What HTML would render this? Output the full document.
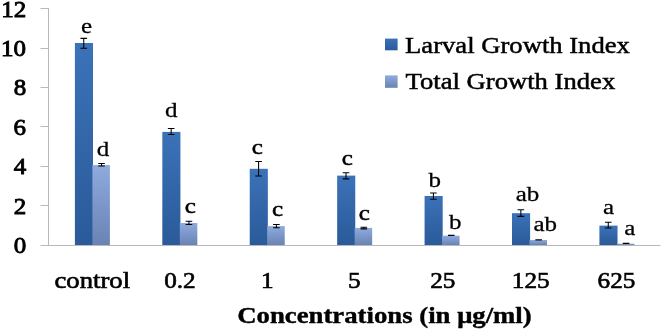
<!DOCTYPE html>
<html><head><meta charset="utf-8"><title>chart</title>
<style>
html,body{margin:0;padding:0;background:#fff;}
svg{display:block}
text{font-family:"Liberation Serif","Times New Roman",serif;fill:#000;stroke:#000}
</style></head><body>
<svg width="663" height="332" viewBox="0 0 663 332">
<defs>
<linearGradient id="gd" x1="0" y1="0" x2="0" y2="1"><stop offset="0" stop-color="#3b72b8"/><stop offset="1" stop-color="#2a5a99"/></linearGradient>
<linearGradient id="gl" x1="0" y1="0" x2="0" y2="1"><stop offset="0" stop-color="#8faade"/><stop offset="1" stop-color="#6983b4"/></linearGradient>
</defs>
<rect width="663" height="332" fill="#fff"/>
<g stroke="#b8b8b8" stroke-width="1" fill="none">
<line x1="48.5" y1="8" x2="48.5" y2="246.0"/>
<line x1="40.5" y1="245.5" x2="660.5" y2="245.5"/>
<line x1="40.5" y1="205.5" x2="48.5" y2="205.5"/>
<line x1="40.5" y1="166.5" x2="48.5" y2="166.5"/>
<line x1="40.5" y1="126.5" x2="48.5" y2="126.5"/>
<line x1="40.5" y1="87.5" x2="48.5" y2="87.5"/>
<line x1="40.5" y1="48.5" x2="48.5" y2="48.5"/>
<line x1="40.5" y1="8.5" x2="48.5" y2="8.5"/>
</g>
<rect x="74.90" y="43.00" width="18.1" height="202.00" fill="url(#gd)"/>
<rect x="92.40" y="165.10" width="17.5" height="79.90" fill="url(#gl)"/>
<rect x="162.32" y="131.90" width="18.1" height="113.10" fill="url(#gd)"/>
<rect x="179.82" y="223.00" width="17.5" height="22.00" fill="url(#gl)"/>
<rect x="249.74" y="168.80" width="18.1" height="76.20" fill="url(#gd)"/>
<rect x="267.24" y="226.10" width="17.5" height="18.90" fill="url(#gl)"/>
<rect x="337.16" y="175.60" width="18.1" height="69.40" fill="url(#gd)"/>
<rect x="354.66" y="227.90" width="17.5" height="17.10" fill="url(#gl)"/>
<rect x="424.58" y="196.00" width="18.1" height="49.00" fill="url(#gd)"/>
<rect x="442.08" y="235.70" width="17.5" height="9.30" fill="url(#gl)"/>
<rect x="512.00" y="213.20" width="18.1" height="31.80" fill="url(#gd)"/>
<rect x="529.50" y="240.00" width="17.5" height="5.00" fill="url(#gl)"/>
<rect x="599.42" y="225.60" width="18.1" height="19.40" fill="url(#gd)"/>
<rect x="616.92" y="243.70" width="17.5" height="1.30" fill="url(#gl)"/>
<g stroke="#000" stroke-width="1.05" fill="none">
<path d="M83.75 38.35V48.15M80.45 38.35h6.6M80.45 48.15h6.6"/>
<path d="M101.55 163.55V166.05M98.25 163.55h6.6M98.25 166.05h6.6"/>
<path d="M171.17 128.45V134.55M167.87 128.45h6.6M167.87 134.55h6.6"/>
<path d="M188.97 221.30V224.45M185.67 221.30h6.6M185.67 224.45h6.6"/>
<path d="M258.59 161.55V176.05M255.29 161.55h6.6M255.29 176.05h6.6"/>
<path d="M276.39 224.45V227.75M273.09 224.45h6.6M273.09 227.75h6.6"/>
<path d="M346.01 172.65V178.85M342.71 172.65h6.6M342.71 178.85h6.6"/>
<path d="M363.81 227.15V228.85M360.51 227.15h6.6M360.51 228.85h6.6"/>
<path d="M433.43 193.05V199.25M430.13 193.05h6.6M430.13 199.25h6.6"/>
<path d="M451.23 235.45V235.35M447.93 235.45h6.6M447.93 235.35h6.6"/>
<path d="M520.85 209.75V216.35M517.55 209.75h6.6M517.55 216.35h6.6"/>
<path d="M538.65 239.85V239.75M535.35 239.85h6.6M535.35 239.75h6.6"/>
<path d="M608.27 222.15V227.95M604.97 222.15h6.6M604.97 227.95h6.6"/>
<path d="M626.07 243.35V243.25M622.77 243.35h6.6M622.77 243.25h6.6"/>
</g>
<rect x="385" y="38.6" width="12.6" height="11.7" fill="url(#gd)"/>
<rect x="385" y="75.4" width="12.6" height="12.4" fill="url(#gl)"/>
<g>
<text transform="translate(13.75 252.85) scale(1.0414 0.9628)" font-size="24" font-weight="normal" stroke-width="0.9">0</text>
<text transform="translate(13.75 213.84) scale(1.0414 0.9628)" font-size="24" font-weight="normal" stroke-width="0.9">2</text>
<text transform="translate(13.63 174.33) scale(1.0414 0.9628)" font-size="24" font-weight="normal" stroke-width="0.9">4</text>
<text transform="translate(13.50 134.57) scale(1.0414 0.9628)" font-size="24" font-weight="normal" stroke-width="0.9">6</text>
<text transform="translate(13.75 95.31) scale(1.0414 0.9628)" font-size="24" font-weight="normal" stroke-width="0.9">8</text>
<text transform="translate(1.02 55.80) scale(1.0414 0.9628)" font-size="24" font-weight="normal" stroke-width="0.9">10</text>
<text transform="translate(1.15 16.79) scale(1.0414 0.9628)" font-size="24" font-weight="normal" stroke-width="0.9">12</text>
<text transform="translate(81.07 32.70) scale(1.0429 0.8883)" font-size="24" font-weight="normal" stroke-width="0.3">e</text>
<text transform="translate(96.80 155.80) scale(1.0429 0.8883)" font-size="24" font-weight="normal" stroke-width="0.3">d</text>
<text transform="translate(164.90 117.30) scale(1.0429 0.8883)" font-size="24" font-weight="normal" stroke-width="0.3">d</text>
<text transform="translate(184.65 212.60) scale(1.0429 0.8883)" font-size="24" font-weight="normal" stroke-width="0.55">c</text>
<text transform="translate(251.75 153.50) scale(1.0429 0.8883)" font-size="24" font-weight="normal" stroke-width="0.55">c</text>
<text transform="translate(271.92 215.60) scale(1.0429 0.8883)" font-size="24" font-weight="normal" stroke-width="0.55">c</text>
<text transform="translate(341.73 164.90) scale(1.0429 0.8883)" font-size="24" font-weight="normal" stroke-width="0.55">c</text>
<text transform="translate(358.70 219.55) scale(1.0429 0.8883)" font-size="24" font-weight="normal" stroke-width="0.55">c</text>
<text transform="translate(428.42 186.80) scale(1.0429 0.8883)" font-size="24" font-weight="normal" stroke-width="0.3">b</text>
<text transform="translate(448.98 229.20) scale(1.0429 0.8883)" font-size="24" font-weight="normal" stroke-width="0.3">b</text>
<text transform="translate(515.77 200.70) scale(1.0429 0.8883)" font-size="24" font-weight="normal" stroke-width="0.3">ab</text>
<text transform="translate(533.43 231.20) scale(1.0429 0.8883)" font-size="24" font-weight="normal" stroke-width="0.3">ab</text>
<text transform="translate(603.10 213.70) scale(1.0429 0.8883)" font-size="24" font-weight="normal" stroke-width="0.3">a</text>
<text transform="translate(624.20 234.85) scale(1.0429 0.8883)" font-size="24" font-weight="normal" stroke-width="0.3">a</text>
<text transform="translate(54.53 287.90) scale(1.1115 0.9743)" font-size="24" font-weight="normal" stroke-width="0.65">control</text>
<text transform="translate(164.17 287.50) scale(1.0518 0.9791)" font-size="24" font-weight="normal" stroke-width="0.65">0.2</text>
<text transform="translate(260.93 287.65) scale(1.0518 0.9791)" font-size="24" font-weight="normal" stroke-width="0.65">1</text>
<text transform="translate(348.12 287.50) scale(1.0518 0.9791)" font-size="24" font-weight="normal" stroke-width="0.65">5</text>
<text transform="translate(430.25 287.50) scale(1.0518 0.9791)" font-size="24" font-weight="normal" stroke-width="0.65">25</text>
<text transform="translate(511.85 287.50) scale(1.0518 0.9791)" font-size="24" font-weight="normal" stroke-width="0.65">125</text>
<text transform="translate(597.60 287.50) scale(1.0518 0.9791)" font-size="24" font-weight="normal" stroke-width="0.65">625</text>
<text transform="translate(405.08 52.95) scale(1.1098 0.9913)" font-size="24" font-weight="normal" stroke-width="0.5">Larval Growth Index</text>
<text transform="translate(405.55 89.00) scale(1.1098 0.9913)" font-size="24" font-weight="normal" stroke-width="0.5">Total Growth Index</text>
<text transform="translate(237.30 323.40) scale(1.1145 0.9699)" font-size="24" font-weight="bold" stroke-width="0.4">Concentrations (in μg/ml)</text>
</g>
</svg></body></html>
